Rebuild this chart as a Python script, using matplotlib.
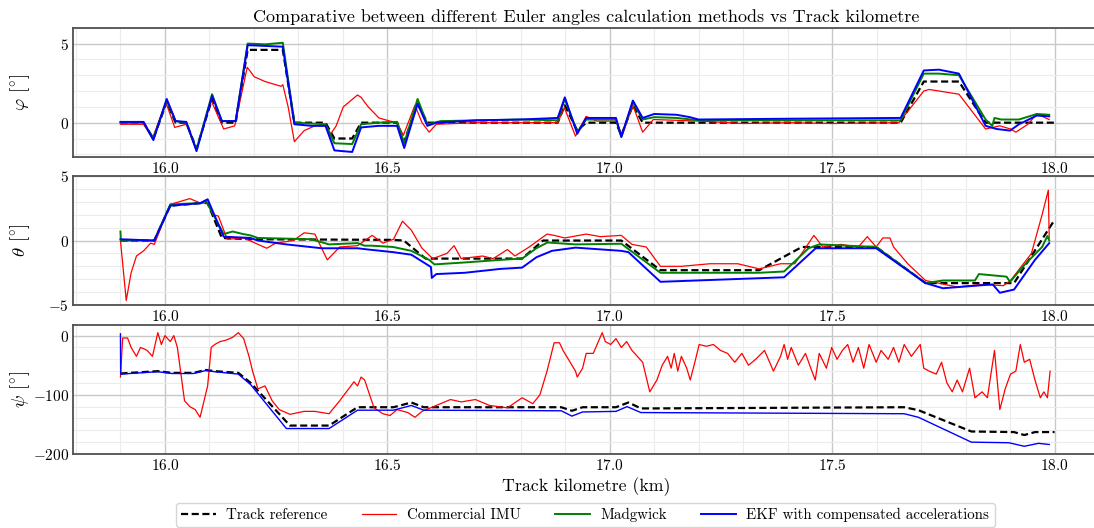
import matplotlib

matplotlib.use("Agg")
import matplotlib.pyplot as plt
from matplotlib.ticker import MultipleLocator

# ---- roll (phi) ----------------------------------------------------------
phi_ref_km = [15.9, 15.952, 15.974, 16.004, 16.024, 16.048, 16.071, 16.106, 16.128,
              16.159, 16.186, 16.265, 16.291, 16.361, 16.381, 16.421, 16.441, 16.522,
              16.538, 16.568, 16.59, 16.883, 16.899, 16.927, 16.947, 17.014, 17.026,
              17.052, 17.074, 17.654, 17.706, 17.785, 17.845, 18.0]
phi_ref = [0, 0, -1.0, 1.3, 0, 0, -1.65, 1.5, 0, 0, 4.6, 4.6, 0, 0, -1.0, -1.0, 0, 0,
           -1.2, 1.2, 0, 0, 1.1, -0.5, 0, 0, -0.8, 1.1, 0, 0, 2.6, 2.6, 0, 0]

phi_imu_km = [15.9, 15.952, 15.972, 16.002, 16.022, 16.048, 16.071, 16.104, 16.132,
              16.157, 16.185, 16.201, 16.225, 16.249, 16.261, 16.265, 16.277, 16.291,
              16.313, 16.337, 16.361, 16.373, 16.385, 16.401, 16.433, 16.441, 16.457,
              16.481, 16.506, 16.522, 16.536, 16.562, 16.578, 16.594, 16.61, 16.7,
              16.8, 16.883, 16.898, 16.923, 16.947, 16.971, 17.014, 17.028, 17.052,
              17.074, 17.098, 17.201, 17.3, 17.4, 17.5, 17.65, 17.706, 17.718, 17.785,
              17.845, 17.877, 17.901, 17.913, 17.94, 17.96, 17.988]
phi_imu = [-0.1, -0.1, -1.0, 1.3, -0.3, -0.1, -1.7, 1.4, -0.4, -0.2, 3.5, 2.9, 2.6,
           2.4, 2.3, 2.4, 1.0, -1.2, -0.5, -0.2, -0.2, -0.7, -0.2, 1.0, 1.75, 1.6,
           1.0, 0.3, 0.1, 0.0, -0.8, 1.1, 0.0, -0.6, -0.1, 0.0, 0.0, 0.0, 0.95, -0.85,
           0.4, 0.1, 0.1, -0.8, 1.1, -0.6, 0.2, 0.1, -0.05, 0.0, -0.05, 0.0, 2.0, 2.1,
           1.8, -0.4, -0.2, -0.4, -0.6, -0.1, 0.55, 0.2]

phi_madg_km = [15.9, 15.952, 15.974, 16.004, 16.024, 16.048, 16.071, 16.106, 16.128,
               16.159, 16.186, 16.225, 16.265, 16.291, 16.361, 16.381, 16.421, 16.441,
               16.48, 16.522, 16.538, 16.568, 16.59, 16.62, 16.8, 16.883, 16.899,
               16.927, 16.947, 17.014, 17.026, 17.052, 17.074, 17.1, 17.15, 17.2,
               17.654, 17.706, 17.74, 17.785, 17.845, 17.86, 17.865, 17.88, 17.92,
               17.96, 17.988]
phi_madg = [0, 0, -1.0, 1.4, 0.1, 0.0, -1.7, 1.8, 0.1, 0.1, 5.0, 4.95, 5.05, 0.0, -0.1,
            -1.3, -1.35, -0.1, 0.0, 0.05, -1.3, 1.5, -0.1, 0.1, 0.2, 0.15, 1.5, -0.6,
            0.2, 0.2, -0.9, 1.3, 0.2, 0.35, 0.3, 0.15, 0.15, 3.1, 3.1, 3.0, 0.2, -0.2,
            0.3, 0.2, 0.2, 0.55, 0.5]

phi_ekf_km = [15.9, 15.952, 15.974, 16.004, 16.024, 16.048, 16.071, 16.106, 16.128,
              16.159, 16.186, 16.225, 16.265, 16.291, 16.33, 16.361, 16.381, 16.4,
              16.421, 16.441, 16.48, 16.522, 16.538, 16.568, 16.59, 16.61, 16.7, 16.8,
              16.883, 16.899, 16.927, 16.947, 17.014, 17.026, 17.052, 17.074, 17.1,
              17.15, 17.18, 17.2, 17.4, 17.654, 17.706, 17.74, 17.785, 17.845, 17.87,
              17.9, 17.92, 17.96, 17.988]
phi_ekf = [0.05, 0.05, -1.1, 1.5, 0.1, 0.05, -1.8, 1.7, 0.1, 0.1, 4.9, 4.85, 4.8, -0.1,
           -0.2, -0.2, -1.75, -1.8, -1.85, -0.3, -0.2, -0.2, -1.6, 1.2, -0.2, 0.0, 0.15,
           0.2, 0.3, 1.6, -0.7, 0.3, 0.3, -0.9, 1.4, 0.3, 0.55, 0.5, 0.35, 0.2, 0.25,
           0.3, 3.3, 3.35, 3.1, -0.2, -0.4, -0.5, -0.1, 0.45, 0.4]

# ---- pitch (theta) -------------------------------------------------------
theta_ref_km = [15.9, 15.976, 16.012, 16.08, 16.096, 16.128, 16.192, 16.513, 16.537,
                16.586, 16.803, 16.85, 17.026, 17.114, 17.336, 17.432, 17.599, 17.71,
                17.909, 18.0]
theta_ref = [0, 0, 2.7, 2.9, 2.9, 0.2, 0.1, 0.05, 0.0, -1.4, -1.4, 0, 0, -2.3, -2.3,
             -0.5, -0.5, -3.3, -3.3, 1.6]

theta_imu_km = [15.9, 15.913, 15.924, 15.936, 15.952, 15.968, 15.976, 16.012, 16.056,
                16.08, 16.096, 16.108, 16.12, 16.14, 16.177, 16.229, 16.249, 16.289,
                16.313, 16.337, 16.365, 16.393, 16.433, 16.466, 16.49, 16.514, 16.534,
                16.554, 16.578, 16.602, 16.634, 16.65, 16.666, 16.714, 16.738, 16.77,
                16.787, 16.819, 16.859, 16.875, 16.899, 16.947, 16.979, 17.026, 17.05,
                17.082, 17.114, 17.161, 17.225, 17.288, 17.336, 17.384, 17.416, 17.459,
                17.479, 17.519, 17.559, 17.579, 17.599, 17.614, 17.63, 17.638, 17.67,
                17.71, 17.781, 17.837, 17.885, 17.901, 17.948, 17.972, 17.986, 17.988]
theta_imu = [0, -4.65, -2.5, -1.2, -0.8, -0.2, -0.3, 2.8, 3.25, 2.9, 2.9, 2.0, 1.9, 0.1,
             0.2, -0.6, -0.2, 0.0, 0.6, 0.5, -1.5, -0.5, -0.4, 0.4, -0.2, 0.1, 1.5, 0.8,
             -0.6, -1.4, -1.0, -0.4, -1.4, -1.2, -1.4, -0.7, -1.2, -0.5, 0.5, 0.4, 0.2,
             0.5, 0.3, 0.4, -0.3, -0.5, -2.0, -2.0, -1.8, -1.8, -2.2, -1.8, -1.8, 0.4,
             -0.5, -0.3, -0.5, 0.3, -0.5, 0.2, 0.2, -0.5, -1.8, -3.1, -3.6, -3.4, -3.5,
             -3.1, -1.0, 2.0, 3.9, 0.2]

theta_madg_km = [15.9, 15.901, 15.976, 16.012, 16.08, 16.092, 16.132, 16.152, 16.176,
                 16.192, 16.209, 16.329, 16.369, 16.433, 16.449, 16.465, 16.513, 16.554,
                 16.594, 16.606, 16.674, 16.754, 16.803, 16.835, 16.86, 16.923, 17.026,
                 17.114, 17.336, 17.392, 17.447, 17.471, 17.599, 17.71, 17.749, 17.821,
                 17.83, 17.892, 17.9, 17.932, 17.972, 17.984, 17.988]
theta_madg = [0.7, 0, 0, 2.8, 2.9, 3.1, 0.5, 0.7, 0.5, 0.4, 0.2, 0.1, -0.3, -0.2, -0.4,
              -0.4, -0.5, -0.8, -1.5, -1.85, -1.7, -1.5, -1.4, -0.6, -0.15, -0.3,
              -0.25, -2.5, -2.5, -2.4, -0.6, -0.3, -0.5, -3.3, -3.1, -3.1, -2.6, -2.8,
              -3.2, -1.9, -0.5, 0.35, 0.0]

theta_ekf_km = [15.9, 15.976, 16.012, 16.08, 16.096, 16.132, 16.192, 16.209, 16.273,
                16.353, 16.433, 16.458, 16.513, 16.554, 16.598, 16.6, 16.61, 16.674,
                16.754, 16.803, 16.835, 16.87, 16.923, 17.026, 17.042, 17.114, 17.392,
                17.463, 17.599, 17.71, 17.749, 17.861, 17.877, 17.909, 17.956, 17.988]
theta_ekf = [0.1, 0.0, 2.7, 2.9, 3.2, 0.3, 0.2, 0.0, -0.3, -0.6, -0.6, -0.7, -0.9,
             -1.1, -2.05, -2.9, -2.6, -2.5, -2.2, -2.1, -1.3, -0.8, -0.55, -0.8, -0.9,
             -3.2, -2.85, -0.6, -0.6, -3.3, -3.7, -3.4, -4.05, -3.8, -1.5, -0.2]

# ---- yaw (psi) -----------------------------------------------------------
psi_ref_km = [15.9, 15.984, 16.016, 16.064, 16.092, 16.112, 16.165, 16.193, 16.281,
              16.369, 16.433, 16.514, 16.554, 16.582, 16.891, 16.915, 16.939, 17.014,
              17.042, 17.07, 17.098, 17.662, 17.694, 17.813, 17.909, 17.932, 17.956,
              18.0]
psi_ref = [-64, -60, -63, -63, -58, -60, -63, -80, -152, -152, -121, -121, -113, -121,
           -121, -127, -121, -121, -113, -123, -123, -121, -126, -162, -163, -168,
           -163, -163]

psi_imu_km = [15.9, 15.905, 15.916, 15.924, 15.936, 15.945, 15.952, 15.96, 15.972,
              15.984, 15.992, 16.0, 16.012, 16.02, 16.028, 16.036, 16.044, 16.056,
              16.068, 16.079, 16.088, 16.096, 16.104, 16.112, 16.124, 16.136, 16.152,
              16.165, 16.177, 16.189, 16.197, 16.209, 16.225, 16.241, 16.257, 16.281,
              16.313, 16.337, 16.369, 16.393, 16.413, 16.425, 16.433, 16.441, 16.449,
              16.458, 16.47, 16.49, 16.506, 16.522, 16.546, 16.562, 16.578, 16.61,
              16.642, 16.666, 16.698, 16.73, 16.77, 16.803, 16.827, 16.843, 16.859,
              16.875, 16.887, 16.895, 16.907, 16.923, 16.927, 16.939, 16.947, 16.963,
              16.983, 16.99, 17.002, 17.014, 17.026, 17.038, 17.05, 17.074, 17.09,
              17.106, 17.118, 17.13, 17.138, 17.145, 17.153, 17.161, 17.173, 17.181,
              17.193, 17.201, 17.217, 17.233, 17.249, 17.265, 17.281, 17.297, 17.312,
              17.328, 17.348, 17.368, 17.384, 17.392, 17.4, 17.408, 17.424, 17.44,
              17.452, 17.462, 17.471, 17.487, 17.499, 17.511, 17.523, 17.535, 17.547,
              17.559, 17.571, 17.583, 17.599, 17.61, 17.626, 17.638, 17.65, 17.662,
              17.678, 17.698, 17.706, 17.718, 17.734, 17.746, 17.758, 17.77, 17.781,
              17.793, 17.809, 17.821, 17.837, 17.849, 17.865, 17.877, 17.889, 17.901,
              17.913, 17.923, 17.932, 17.944, 17.956, 17.968, 17.976, 17.984, 17.99]
psi_imu = [-70, -4, -4, -20, -35, -20, -22, -25, -35, 5, -15, 0, -10, 0, -20, -65, -110,
           -120, -125, -138, -110, -85, -20, -15, -10, -8, -3, 5, -5, -35, -60, -90,
           -85, -110, -125, -133, -128, -128, -132, -110, -90, -78, -85, -70, -75, -95,
           -122, -132, -135, -125, -130, -138, -128, -118, -108, -112, -108, -118,
           -122, -105, -115, -100, -60, -12, -12, -25, -40, -60, -70, -55, -30, -30, 5,
           -10, -15, -5, -20, -10, -25, -45, -95, -75, -50, -35, -55, -30, -60, -35,
           -55, -75, -40, -15, -18, -15, -25, -30, -45, -30, -50, -40, -25, -60, -35,
           -15, -40, -20, -50, -30, -55, -75, -30, -55, -20, -40, -25, -15, -45, -20,
           -55, -15, -45, -25, -40, -20, -45, -15, -35, -15, -55, -60, -65, -45, -80,
           -95, -75, -95, -55, -105, -95, -105, -25, -125, -90, -65, -60, -15, -45,
           -40, -75, -105, -95, -105, -60]

psi_ekf_km = [15.9, 15.9005, 15.984, 16.016, 16.064, 16.092, 16.112, 16.165, 16.193,
              16.273, 16.369, 16.433, 16.514, 16.554, 16.582, 16.891, 16.915, 16.939,
              17.014, 17.039, 17.07, 17.662, 17.694, 17.813, 17.897, 17.932, 17.964,
              17.988]
psi_ekf = [3, -65, -61, -64, -64, -59, -61, -65, -83, -157, -157, -126, -126, -118,
           -126, -127, -136, -129, -128, -120, -130, -132, -138, -180, -181, -187, -182,
           -184]

plt.rcParams["font.family"] = "serif"
plt.rcParams["font.serif"] = ["cmr10"]
plt.rcParams["mathtext.fontset"] = "cm"
plt.rcParams["axes.formatter.use_mathtext"] = True

fig = plt.figure(figsize=(10.94, 5.28), dpi=100)
left, width, height = 0.067, 0.9376, 0.2443
ax_phi = fig.add_axes([left, 0.7032, width, height])
ax_theta = fig.add_axes([left, 0.4223, width, height])
ax_psi = fig.add_axes([left, 0.1402, width, height])

ref_style = dict(color="black", lw=1.6, ls="--", dashes=(3.2, 1.6))
panels = [
    (ax_phi, (phi_ref_km, phi_ref), (phi_imu_km, phi_imu), (phi_madg_km, phi_madg),
     (phi_ekf_km, phi_ekf), r"$\varphi$ [$^{\circ}$]", (-2.15, 6.0), 5, 1, 1.4),
    (ax_theta, (theta_ref_km, theta_ref), (theta_imu_km, theta_imu),
     (theta_madg_km, theta_madg), (theta_ekf_km, theta_ekf),
     r"$\theta$ [$^{\circ}$]", (-5, 5), 5, 1, 1.4),
    (ax_psi, (psi_ref_km, psi_ref), (psi_imu_km, psi_imu), None,
     (psi_ekf_km, psi_ekf), r"$\psi$ [$^{\circ}$]", (-200, 18), 100, 20, 1.0),
]

for ax, ref, imu, madg, ekf, ylabel, ylim, major, minor, lw in panels:
    ax.plot(*ref, label="Track reference", zorder=3, **ref_style)
    ax.plot(*imu, color="red", lw=0.9, label="Commercial IMU", zorder=3)
    if madg is not None:
        ax.plot(*madg, color="green", lw=lw, label="Madgwick", zorder=3)
    ax.plot(*ekf, color="blue", lw=lw, label="EKF with compensated accelerations",
            zorder=4)
    ax.set_xlim(15.794, 18.1)
    ax.set_ylim(*ylim)
    ax.xaxis.set_major_locator(MultipleLocator(0.5))
    ax.xaxis.set_minor_locator(MultipleLocator(0.1))
    ax.yaxis.set_major_locator(MultipleLocator(major))
    ax.yaxis.set_minor_locator(MultipleLocator(minor))
    ax.grid(which="major", color="#c8c8c8", lw=1.0)
    ax.grid(which="minor", color="#ececec", lw=0.8)
    ax.set_axisbelow(True)
    ax.tick_params(which="both", direction="in", length=0, labelsize=11, pad=3)
    for spine in ax.spines.values():
        spine.set_color("#505050")
        spine.set_linewidth(1.3)
    ax.set_ylabel(ylabel, fontsize=13.5)
    ax.yaxis.set_label_coords(-0.04, 0.5)

ax_phi.set_title("Comparative between different Euler angles calculation methods "
                 "vs Track kilometre", fontsize=13, pad=4)
ax_psi.set_xlabel("Track kilometre (km)", fontsize=12.8, labelpad=3)

handles, labels = ax_phi.get_legend_handles_labels()
fig.legend(handles, labels, loc="upper center", bbox_to_anchor=(0.535, 0.062),
           ncol=4, fontsize=10.8, frameon=True, edgecolor="#cccccc",
           columnspacing=2.3, handlelength=2.3, handletextpad=0.7, borderpad=0.35)

fig.savefig("out.png", dpi=100)
